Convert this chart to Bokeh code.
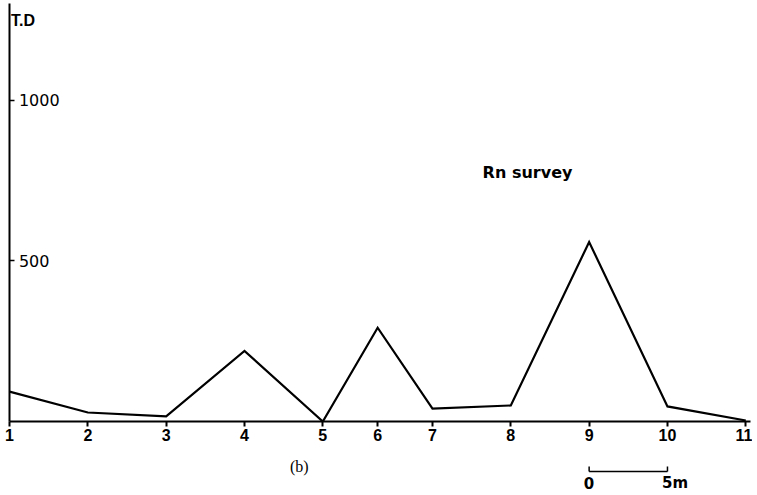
from bokeh.plotting import figure
from bokeh.layouts import column
from bokeh.models import Range1d, FixedTicker, Label
from bokeh.embed import file_html
from bokeh.resources import INLINE

# Station distances along the profile (m) and Rn survey readings (T.D)
station_labels = ["1", "2", "3", "4", "5", "6", "7", "8", "9", "10", "11"]
distance_m = [0, 5, 10, 15, 20, 23.5, 27, 32, 37, 42, 47]
rn_td = [93, 28, 16, 220, 0, 292, 40, 50, 559, 47, 3]
y_ticks = [500, 1000]
y_tick_labels = ["500", "1000"]
scale_bar_m = [37, 42]
scale_bar_labels = ["0", "5m"]

FONT = "DejaVu Sans"
NUM_FONT = "Liberation Sans"
W = 752
X_RANGE = (0, 47.3)

p = figure(width=W, height=443, output_backend="svg", toolbar_location=None,
           x_range=Range1d(*X_RANGE), y_range=Range1d(0, 1302),
           min_border_left=9, min_border_right=2, min_border_top=3,
           min_border_bottom=0)
p.outline_line_color = None
p.xgrid.visible = False
p.ygrid.visible = False

p.line(distance_m, rn_td, line_color="black", line_width=2.2, line_join="miter")

# x axis
xa = p.xaxis[0]
xa.ticker = FixedTicker(ticks=distance_m)
xa.major_label_overrides = {d: s for d, s in zip(distance_m, station_labels)}
xa.axis_line_width = 2
xa.axis_line_color = "black"
xa.major_tick_in = 0
xa.major_tick_out = 5
xa.major_tick_line_width = 2
xa.minor_tick_line_color = None
xa.major_label_standoff = 2
xa.major_label_text_font = NUM_FONT
xa.major_label_text_font_style = "bold"
xa.major_label_text_font_size = "16px"
xa.major_label_text_color = "black"

# y axis (its tick labels sit inside the frame, written as labels)
ya = p.yaxis[0]
ya.ticker = FixedTicker(ticks=y_ticks)
ya.major_label_overrides = {t: "" for t in y_ticks}
ya.major_label_standoff = 0
ya.major_label_text_font_size = "1px"
ya.axis_line_width = 2
ya.axis_line_color = "black"
ya.major_tick_in = 5
ya.major_tick_out = 0
ya.major_tick_line_width = 1.5
ya.minor_tick_line_color = None

for t, s in zip(y_ticks, y_tick_labels):
    p.add_layout(Label(x=0.6, y=t, text=s, text_font=FONT, text_font_size="16px",
                       text_baseline="middle", text_align="left", text_color="black"))

p.add_layout(Label(x=0.1, y=1248, text="T.D", text_font=NUM_FONT, text_font_style="bold",
                   text_font_size="16px", text_baseline="middle", text_color="black"))
p.add_layout(Label(x=30.2, y=776, text="Rn survey", text_font=FONT, text_font_style="bold",
                   text_font_size="16px", text_baseline="middle", text_color="black"))

# bottom strip: caption and 0-5 m scale bar, sharing the x scale
b = figure(width=W, height=50, output_backend="svg", toolbar_location=None,
           x_range=p.x_range, y_range=Range1d(0, 50),
           min_border_left=9, min_border_right=2, min_border_top=0, min_border_bottom=0)
b.outline_line_color = None
b.xgrid.visible = False
b.ygrid.visible = False
b.xaxis.visible = False
b.yaxis.visible = False

b.line(scale_bar_m, [22, 22], line_color="black", line_width=1.5)
b.segment(x0=scale_bar_m, y0=[22, 22], x1=scale_bar_m, y1=[27, 27],
          line_color="black", line_width=1.5)
b.text(x=scale_bar_m, y=[11, 11], text=scale_bar_labels,
       text_font={"value": FONT}, text_font_style="bold", text_font_size="15px",
       text_align="left", text_baseline="middle", text_color="black",
       x_offset=-5.5)
b.add_layout(Label(x=18.5, y=27, text="(b)", text_font="Liberation Serif",
                   text_font_size="16px", text_baseline="middle", text_align="center",
                   text_color="black"))

layout = column(p, b, spacing=0)
open("out.html", "w").write(file_html(layout, INLINE))
